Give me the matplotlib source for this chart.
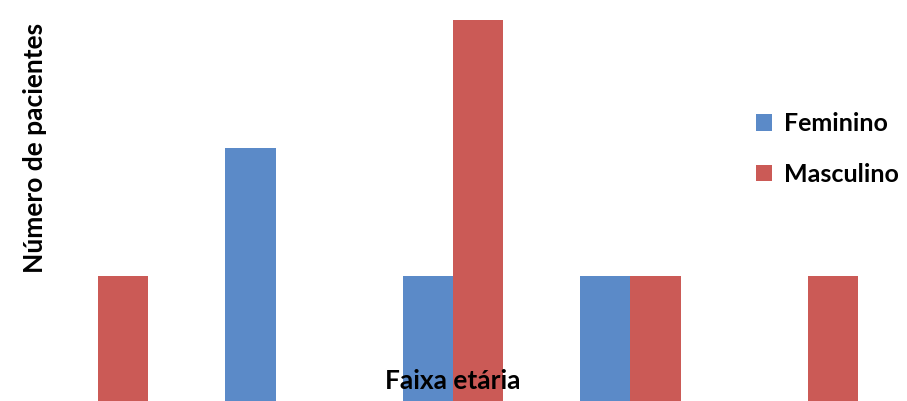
import numpy as np
import matplotlib.pyplot as plt

# Data (age-group tick labels are cropped out of the picture)
faixas = ["G1", "G2", "G3", "G4", "G5"]
feminino = [0, 2, 1, 1, 0]
masculino = [1, 0, 3, 1, 1]

cor_fem = "#5B8AC8"
cor_masc = "#CB5A56"

plt.rcParams['font.family'] = ['Lato', 'DejaVu Sans']

fig = plt.figure(figsize=(9.07, 4.01), dpi=100)
ax = fig.add_axes([9.5 / 907, 0, 887 / 907, 1])

x = np.arange(len(faixas))
w = 50 / 177
ax.bar(x - w / 2, feminino, width=w, color=cor_fem, label="Feminino")
ax.bar(x + w / 2, masculino, width=w, color=cor_masc, label="Masculino")

# baseline sits just below the cropped picture edge
ax.set_xlim(-0.5, len(faixas) - 0.5)
ax.set_ylim(3 / 128, 404 / 128)
ax.set_xticks([])
ax.set_yticks([])
for s in ax.spines.values():
    s.set_visible(False)

fig.text(35 / 907, 1 - 148 / 401, "Número de pacientes", rotation=90,
         ha="center", va="center", fontsize=19, fontweight="bold")
fig.text(453 / 907, 1 - 381 / 401, "Faixa etária",
         ha="center", va="center", fontsize=19, fontweight="bold")

leg = ax.legend(loc="center left", bbox_to_anchor=(756 / 907, 1 - 149 / 401),
                bbox_transform=fig.transFigure, frameon=False,
                borderpad=0, borderaxespad=0,
                handlelength=0.65, handleheight=0.65, handletextpad=0.45,
                labelspacing=1.1, prop={"size": 18, "weight": "bold"})

fig.savefig("out.png", dpi=100)
